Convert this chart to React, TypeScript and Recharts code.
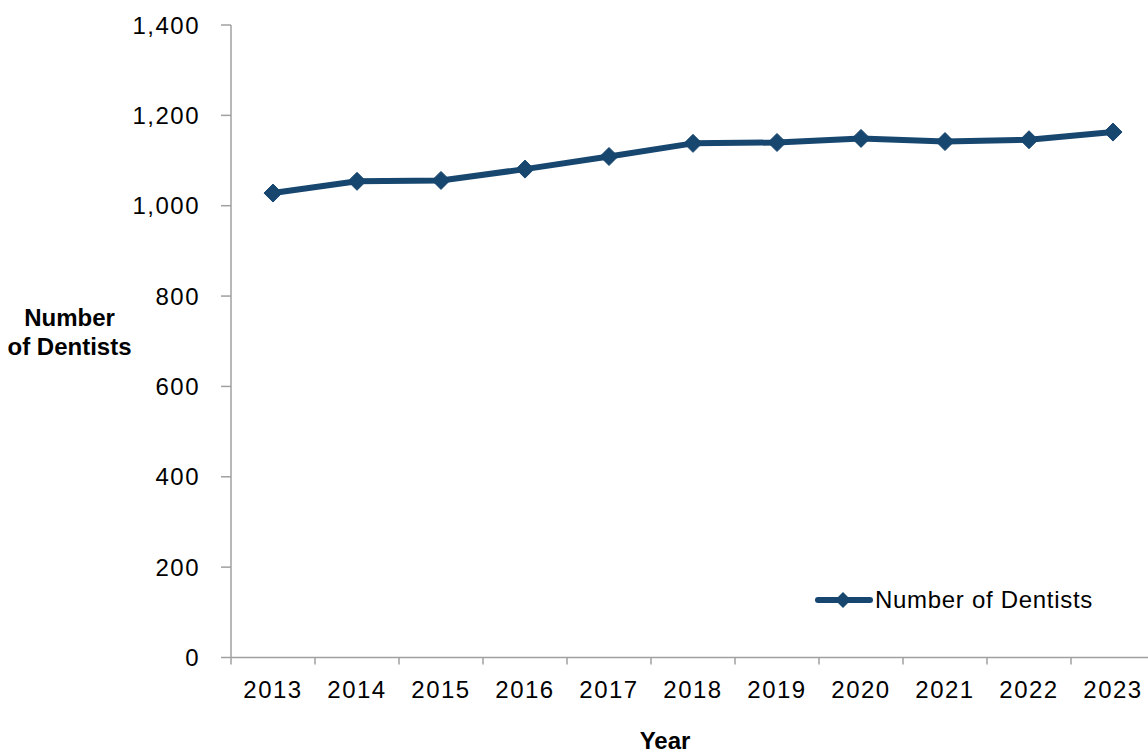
import React from 'react';
import { LineChart, Line, XAxis, YAxis, Legend, Label } from 'recharts';

const years: string[] = ['2013', '2014', '2015', '2016', '2017', '2018', '2019', '2020', '2021', '2022', '2023'];
const dentists: number[] = [1028, 1054, 1056, 1081, 1109, 1138, 1140, 1149, 1142, 1146, 1163];
const yTicks: number[] = [0, 200, 400, 600, 800, 1000, 1200, 1400];
const seriesName = 'Number of Dentists';
const xTitle = 'Year';
const yTitleLines: string[] = ['Number', 'of Dentists'];

const data = years.map((y, i) => ({ year: y, value: dentists[i] }));

const CHART_W = 1160;
const CHART_H = 754;
const MARGIN = { top: 25, right: 5, bottom: 0, left: 0 };
const Y_AXIS_W = 231;
const X_AXIS_H = 96.5;
const LINE_COLOR = '#17466f';
const AXIS_COLOR = '#a0a0a0';
const FONT = '"Liberation Sans", Arial, sans-serif';
const X_TICK_SIZE = 7;
const X_TICK_MARGIN = 16;

const PLOT_W = CHART_W - MARGIN.left - MARGIN.right - Y_AXIS_W;
const HALF_BAND = PLOT_W / years.length / 2;

const XTick = (props: any) => {
  const { x, y, payload } = props;
  const axisY = y - X_TICK_SIZE - X_TICK_MARGIN;
  return (
    <g>
      <line x1={x - HALF_BAND} x2={x - HALF_BAND} y1={axisY} y2={axisY + X_TICK_SIZE} stroke={AXIS_COLOR} strokeWidth={1.5} />
      <text x={x} y={y} dy={17} textAnchor="middle" fill="#000" fontFamily={FONT} fontSize={24} letterSpacing={1.5}>
        {payload.value}
      </text>
    </g>
  );
};

const YTick = (props: any) => {
  const { x, y, payload } = props;
  return (
    <text x={x} y={y} dy={8.5} textAnchor="end" fill="#000" fontFamily={FONT} fontSize={24} letterSpacing={1.5}>
      {Number(payload.value).toLocaleString('en-US')}
    </text>
  );
};

const Diamond = (props: any) => {
  const { cx, cy, index } = props;
  if (cx == null || cy == null) return <g key={index} />;
  const r = 9;
  return (
    <polygon
      key={index}
      points={`${cx},${cy - r} ${cx + r},${cy} ${cx},${cy + r} ${cx - r},${cy}`}
      fill={LINE_COLOR}
      stroke={LINE_COLOR}
    />
  );
};

const LegendContent = () => (
  <div style={{ display: 'flex', alignItems: 'center', height: 30, whiteSpace: 'nowrap' }}>
    <svg width={58} height={30} style={{ display: 'block' }}>
      <line x1={3} x2={55} y1={15} y2={15} stroke={LINE_COLOR} strokeWidth={6} strokeLinecap="round" />
      <polygon points="28,7 36,15 28,23 20,15" fill={LINE_COLOR} />
    </svg>
    <span style={{ fontFamily: FONT, fontSize: 24, letterSpacing: 0.7, color: '#000', marginLeft: 2 }}>{seriesName}</span>
  </div>
);

const YTitle = (props: any) => {
  return (
    <text textAnchor="middle" fill="#000" fontFamily={FONT} fontSize={24} fontWeight="bold">
      <tspan x={69.5} y={326}>{yTitleLines[0]}</tspan>
      <tspan x={69.5} y={355}>{yTitleLines[1]}</tspan>
    </text>
  );
};

const XTitle = (props: any) => {
  return (
    <text x={665} y={749} textAnchor="middle" fill="#000" fontFamily={FONT} fontSize={24} fontWeight="bold">
      {xTitle}
    </text>
  );
};

export default function App() {
  return (
    <div style={{ position: 'absolute', left: 0, top: 0, width: 1148, height: 754, overflow: 'hidden', background: '#fff' }}>
      <LineChart width={CHART_W} height={CHART_H} data={data} margin={MARGIN}>
        <XAxis
          dataKey="year"
          scale="band"
          height={X_AXIS_H}
          stroke={AXIS_COLOR}
          strokeWidth={1.5}
          tickLine={false}
          tickSize={X_TICK_SIZE}
          tickMargin={X_TICK_MARGIN}
          tick={<XTick />}
          interval={0}
        >
          <Label content={<XTitle />} />
        </XAxis>
        <YAxis
          width={Y_AXIS_W}
          domain={[0, 1400]}
          ticks={yTicks}
          interval={0}
          stroke={AXIS_COLOR}
          strokeWidth={1.5}
          tickSize={10}
          tickMargin={21}
          tick={<YTick />}
        >
          <Label content={<YTitle />} />
        </YAxis>
        <Legend
          layout="horizontal"
          verticalAlign="middle"
          align="center"
          content={<LegendContent />}
          wrapperStyle={{ left: 815, top: 585, width: 'auto' }}
        />
        <Line
          type="linear"
          dataKey="value"
          name={seriesName}
          stroke={LINE_COLOR}
          strokeWidth={6}
          strokeLinejoin="round"
          dot={<Diamond />}
          activeDot={false}
          isAnimationActive={false}
        />
      </LineChart>
    </div>
  );
}
